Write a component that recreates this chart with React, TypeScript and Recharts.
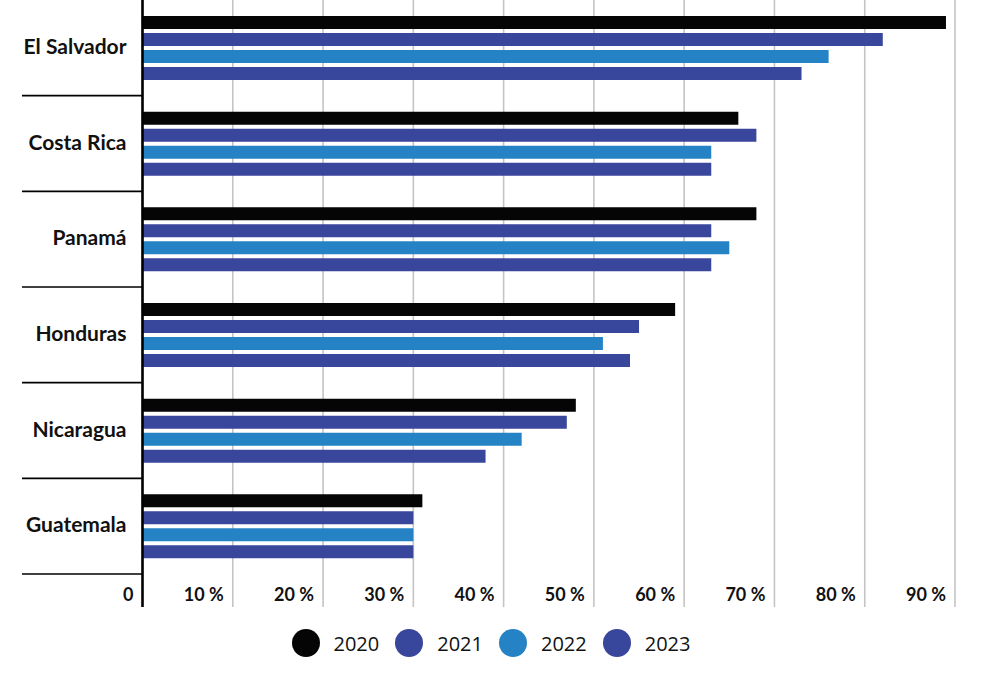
import React from 'react';
import { BarChart, Bar, XAxis, YAxis, CartesianGrid, Legend, ReferenceLine } from 'recharts';

const countries = ['El Salvador', 'Costa Rica', 'Panamá', 'Honduras', 'Nicaragua', 'Guatemala'];
const v2020 = [89, 66, 68, 59, 48, 31];
const v2021 = [82, 68, 63, 55, 47, 30];
const v2022 = [76, 63, 65, 51, 42, 30];
const v2023 = [73, 63, 63, 54, 38, 30];
const xTicks = [0, 10, 20, 30, 40, 50, 60, 70, 80, 90];

const series = [
  { key: 'y2020', name: '2020', color: '#050505' },
  { key: 'y2021', name: '2021', color: '#38469c' },
  { key: 'y2022', name: '2022', color: '#2582c5' },
  { key: 'y2023', name: '2023', color: '#38469c' },
];

const data = countries.map((c, i) => ({
  country: c,
  y2020: v2020[i],
  y2021: v2021[i],
  y2022: v2022[i],
  y2023: v2023[i],
}));

const BAND = 574 / countries.length;

const CountryTick = (props: any) => {
  const { x, y, payload } = props;
  return (
    <g>
      <line x1={22} x2={x} y1={y + BAND / 2} y2={y + BAND / 2} stroke="#000" strokeWidth={1.6} />
      <text
        x={x - 16}
        y={y}
        dy={6}
        textAnchor="end"
        fontFamily="Lato, 'Open Sans', sans-serif"
        fontWeight={700}
        fontSize={21}
        fill="#111"
      >
        {payload.value}
      </text>
    </g>
  );
};

const PercentTick = (props: any) => {
  const { x, y, payload } = props;
  const isZero = payload.value === 0;
  return (
    <g>
      <line
        x1={x}
        x2={x}
        y1={y}
        y2={y + 33}
        stroke={isZero ? '#000' : '#c4c4c4'}
        strokeWidth={isZero ? 2.6 : 1.6}
      />
      <text
        x={x - 9}
        y={y + 21}
        dy={6}
        textAnchor="end"
        fontFamily="Lato, 'Open Sans', sans-serif"
        fontWeight={700}
        fontSize={18}
        fill="#111"
      >
        {isZero ? '0' : `${payload.value} %`}
      </text>
    </g>
  );
};

const LegendContent = () => (
  <div
    style={{
      display: 'flex',
      justifyContent: 'center',
      alignItems: 'center',
      gap: 16,
      fontFamily: "'Open Sans', sans-serif",
      fontSize: 20,
      color: '#111',
    }}
  >
    {series.map((s) => (
      <div key={s.key} style={{ display: 'flex', alignItems: 'center' }}>
        <svg width={28} height={28} style={{ marginRight: 14 }}>
          <circle cx={14} cy={14} r={14} fill={s.color} />
        </svg>
        <span>{s.name}</span>
      </div>
    ))}
  </div>
);

export default function App() {
  return (
    <div style={{ position: 'absolute', left: 0, top: 0, background: '#fff' }}>
      <BarChart
        width={982}
        height={673}
        data={data}
        layout="vertical"
        margin={{ top: 0, right: 27, left: 0, bottom: 66 }}
        barCategoryGap={15}
        barGap={4}
      >
        <CartesianGrid horizontal={false} stroke="#c4c4c4" strokeWidth={1.6} />
        <XAxis
          type="number"
          domain={[0, 90]}
          ticks={xTicks}
          interval={0}
          axisLine={false}
          tickLine={false}
          tickSize={0}
          tickMargin={0}
          height={33}
          tick={<PercentTick />}
        />
        <YAxis
          type="category"
          dataKey="country"
          width={142.5}
          axisLine={false}
          tickLine={false}
          tickSize={0}
          tickMargin={0}
          interval={0}
          tick={<CountryTick />}
        />
        <ReferenceLine x={0} stroke="#000" strokeWidth={2.6} />
        <Legend
          verticalAlign="middle"
          align="center"
          layout="horizontal"
          wrapperStyle={{ top: 629, left: 0, width: 982 }}
          content={<LegendContent />}
        />
        {series.map((s) => (
          <Bar key={s.key} dataKey={s.key} name={s.name} fill={s.color} barSize={13} isAnimationActive={false} />
        ))}
      </BarChart>
    </div>
  );
}
